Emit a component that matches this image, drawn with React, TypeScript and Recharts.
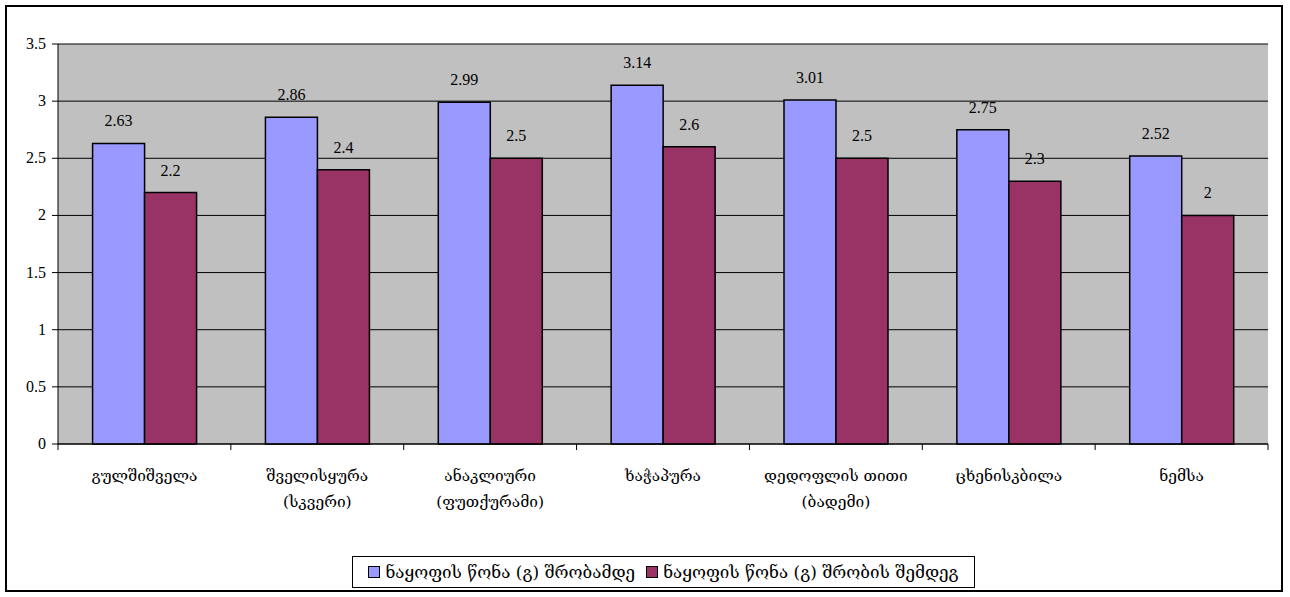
import React from "react";
import { BarChart, Bar, XAxis, YAxis, CartesianGrid, LabelList } from "recharts";

const categories = [
  "გულშიშველა",
  "შველისყურა\n(სკვერი)",
  "ანაკლიური\n(ფუთქურამი)",
  "ხაჭაპურა",
  "დედოფლის თითი\n(ბადემი)",
  "ცხენისკბილა",
  "ნემსა",
];
const beforeDrying = [2.63, 2.86, 2.99, 3.14, 3.01, 2.75, 2.52];
const afterDrying = [2.2, 2.4, 2.5, 2.6, 2.5, 2.3, 2];
const yTicks = [0, 0.5, 1, 1.5, 2, 2.5, 3, 3.5];
const seriesNames = [
  "ნაყოფის წონა (გ) შრობამდე",
  "ნაყოფის წონა (გ) შრობის შემდეგ",
];
const colors = ["#9999FF", "#993366"];

const data = categories.map((name, i) => ({
  name,
  before: beforeDrying[i],
  after: afterDrying[i],
}));

const W = 1290;
const H = 597;
const PLOT_LEFT = 58;
const PLOT_RIGHT = 1268;
const BAND = (PLOT_RIGHT - PLOT_LEFT) / categories.length;
const serifStyle = { fontFamily: "'Liberation Serif', serif", fontSize: 16 };
const geoStyle = { fontFamily: "'DejaVu Serif', serif", fontSize: 15.5 };

function XTick(props: any) {
  const { x, y, payload, index } = props;
  const lines = String(payload.value).split("\n");
  const left = x - BAND / 2;
  return (
    <g>
      <line x1={left} y1={y - 8} x2={left} y2={y - 2} stroke="#000" />
      {index === categories.length - 1 && (
        <line x1={left + BAND} y1={y - 8} x2={left + BAND} y2={y - 2} stroke="#000" />
      )}
      {lines.map((l, i) => (
        <text key={i} x={x} y={y + 29 + i * 26} textAnchor="middle" style={geoStyle} fill="#000">
          {l}
        </text>
      ))}
    </g>
  );
}

function YTick(props: any) {
  const { x, y, payload } = props;
  return (
    <g>
      <line x1={x + 2} y1={y} x2={x + 8} y2={y} stroke="#000" />
      <text x={x - 4} y={y + 5} textAnchor="end" style={serifStyle} fill="#000">
        {payload.value}
      </text>
    </g>
  );
}

function ValueLabel(props: any) {
  const { x, y, width, value } = props;
  return (
    <text x={x + width / 2} y={y - 17} textAnchor="middle" style={serifStyle} fill="#000">
      {value}
    </text>
  );
}

export default function App() {
  return (
    <div style={{ position: "absolute", left: 0, top: 0, width: W, height: H, background: "#fff" }}>
      <div
        style={{
          position: "absolute",
          left: 5,
          top: 5,
          width: 1274,
          height: 583,
          border: "2px solid #000",
        }}
      />
      <div style={{ position: "absolute", left: 0, top: 0 }}>
        <BarChart
          width={W}
          height={H}
          data={data}
          margin={{ top: 44, right: W - PLOT_RIGHT, left: 8, bottom: 0 }}
          barCategoryGap="20%"
          barGap={0}
        >
          <CartesianGrid vertical={false} fill="#C0C0C0" stroke="#000" strokeOpacity={1} />
          <XAxis
            dataKey="name"
            interval={0}
            height={153}
            axisLine={{ stroke: "#000" }}
            tickLine={false}
            tick={<XTick />}
          />
          <YAxis
            width={50}
            domain={[0, 3.5]}
            ticks={yTicks}
            interval={0}
            axisLine={{ stroke: "#000" }}
            tickLine={false}
            tick={<YTick />}
          />
          <Bar dataKey="before" fill={colors[0]} stroke="#000" strokeWidth={1.5} isAnimationActive={false}>
            <LabelList dataKey="before" content={<ValueLabel />} />
          </Bar>
          <Bar dataKey="after" fill={colors[1]} stroke="#000" strokeWidth={1.5} isAnimationActive={false}>
            <LabelList dataKey="after" content={<ValueLabel />} />
          </Bar>
        </BarChart>
      </div>
      <div
        style={{
          position: "absolute",
          left: 352,
          top: 556,
          width: 623,
          height: 32,
          border: "1px solid #000",
          boxSizing: "border-box",
          display: "flex",
          alignItems: "center",
          justifyContent: "center",
          gap: 11,
          fontFamily: "'DejaVu Serif', serif",
          fontSize: 17,
          color: "#000",
          whiteSpace: "nowrap",
        }}
      >
        {seriesNames.map((n, i) => (
          <span key={n} style={{ display: "flex", alignItems: "center", gap: 5 }}>
            <span
              style={{
                display: "inline-block",
                width: 10,
                height: 10,
                background: colors[i],
                border: "1px solid #000",
              }}
            />
            {n}
          </span>
        ))}
      </div>
    </div>
  );
}
